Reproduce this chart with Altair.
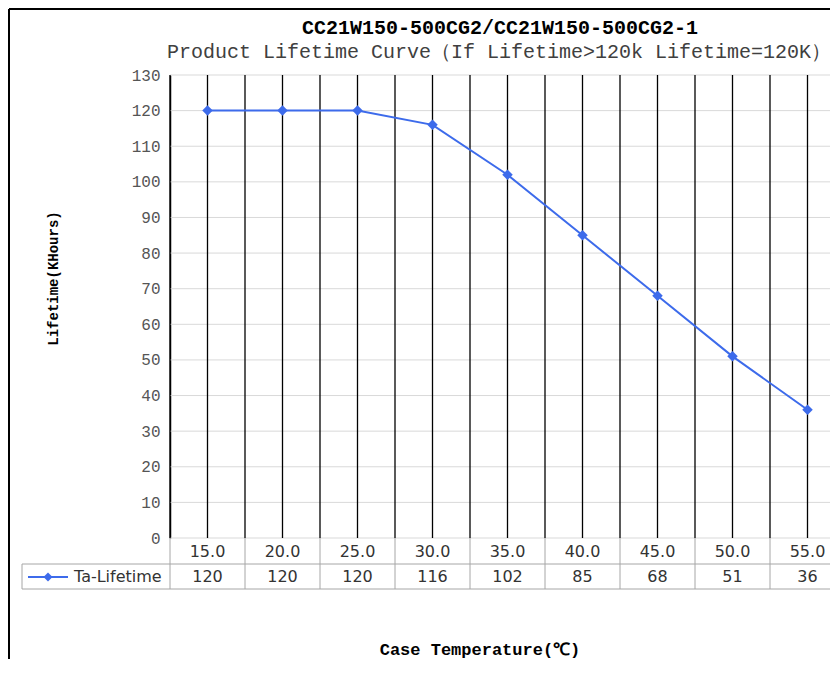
import altair as alt
import pandas as pd

# ---- data ----
temps = [15, 20, 25, 30, 35, 40, 45, 50, 55]
temp_labels = ["15.0", "20.0", "25.0", "30.0", "35.0", "40.0", "45.0", "50.0", "55.0"]
lifetimes = [120, 120, 120, 116, 102, 85, 68, 51, 36]
y_ticks = [0, 10, 20, 30, 40, 50, 60, 70, 80, 90, 100, 110, 120, 130]
series_name = "Ta-Lifetime"
title_text = "CC21W150-500CG2/CC21W150-500CG2-1"
subtitle_text = "Product Lifetime Curve\uff08If Lifetime>120k Lifetime=120K\uff09"
y_title = "Lifetime(KHours)"
x_title = "Case Temperature(\u2103)"

W, H = 660, 463
PB = 121
BLUE = "#3D6BEB"
GRID = "#D9D9D9"
TBL = "#A6A6A6"

df = pd.DataFrame({
    "temp": temps,
    "life": lifetimes,
    "tlabel": temp_labels,
    "llabel": [str(v) for v in lifetimes],
})
half = (temps[1] - temps[0]) / 2
xs = alt.Scale(domain=[temps[0] - half, temps[0] - half + W / 15.0], nice=False, zero=False)
ys = alt.Scale(domain=[0, 130], nice=False)

yaxis = alt.Axis(
    values=y_ticks, grid=False, ticks=False, domain=True, domainColor="#000000", domainWidth=1.5,
    labelFont="Liberation Mono", labelFontSize=16, labelColor="#555555", labelPadding=10,
    title=y_title, titleFont="Liberation Mono", titleFontSize=14, titleFontWeight="bold",
    titleColor="#000000", titleX=-117, titleY=203, titleAlign="center", titleBaseline="middle",
    titleAngle=270)

one = pd.DataFrame({"a": [0]})

grid = alt.Chart(pd.DataFrame({"v": y_ticks})).mark_rule(color=GRID, strokeWidth=1).encode(
    x=alt.value(0), x2=alt.value(W),
    y=alt.Y("v:Q", scale=ys, axis=yaxis),
)

vlines = alt.Chart(pd.DataFrame({"b": [t - half for t in temps] + temps})).mark_rule(
    color="#000000", strokeWidth=1.3).encode(
    x=alt.X("b:Q", scale=xs, axis=None), y=alt.value(0), y2=alt.value(H))

line = alt.Chart(df).mark_line(color=BLUE, strokeWidth=2).encode(
    x=alt.X("temp:Q", scale=xs, axis=None), y=alt.Y("life:Q", scale=ys, axis=yaxis))
pts = alt.Chart(df).mark_point(shape="diamond", filled=True, color=BLUE, size=110, opacity=1).encode(
    x=alt.X("temp:Q", scale=xs, axis=None), y=alt.Y("life:Q", scale=ys, axis=yaxis))

# data table borders
tbl_v = alt.Chart(pd.DataFrame({"b": [t - half for t in temps]})).mark_rule(color=TBL, strokeWidth=1).encode(
    x=alt.X("b:Q", scale=xs, axis=None), y=alt.value(H), y2=alt.value(H + 51))
tbl_h1 = alt.Chart(one).mark_rule(color=TBL, strokeWidth=1).encode(
    x=alt.value(-148), x2=alt.value(W), y=alt.value(H + 26))
tbl_h2 = alt.Chart(one).mark_rule(color=TBL, strokeWidth=1).encode(
    x=alt.value(-148), x2=alt.value(W), y=alt.value(H + 51))
tbl_l = alt.Chart(one).mark_rule(color=TBL, strokeWidth=1).encode(
    x=alt.value(-148), y=alt.value(H + 26), y2=alt.value(H + 51))

row1 = alt.Chart(df).mark_text(font="DejaVu Sans", fontSize=16, color="#333333", baseline="middle").encode(
    x=alt.X("temp:Q", scale=xs, axis=None), y=alt.value(H + 14), text="tlabel:N")
row2 = alt.Chart(df).mark_text(font="DejaVu Sans", fontSize=16, color="#333333", baseline="middle").encode(
    x=alt.X("temp:Q", scale=xs, axis=None), y=alt.value(H + 39), text="llabel:N")

leg_line = alt.Chart(one).mark_rule(color=BLUE, strokeWidth=2).encode(
    x=alt.value(-142), x2=alt.value(-102), y=alt.value(H + 39))
leg_pt = alt.Chart(one).mark_point(shape="diamond", filled=True, color=BLUE, size=80, opacity=1).encode(
    x=alt.value(-122), y=alt.value(H + 39))
leg_txt = alt.Chart(pd.DataFrame({"s": [series_name]})).mark_text(
    font="DejaVu Sans", fontSize=16, color="#333333", align="left", baseline="middle").encode(
    x=alt.value(-96), y=alt.value(H + 39), text="s:N")

# titles
t1 = alt.Chart(pd.DataFrame({"s": [title_text]})).mark_text(
    font="Liberation Mono", fontSize=20, fontWeight="bold", color="#000000", align="center",
    baseline="alphabetic").encode(x=alt.value(330), y=alt.value(-41), text="s:N")
t2 = alt.Chart(pd.DataFrame({"s": [subtitle_text]})).mark_text(
    font="Liberation Mono", fontSize=20, color="#404040", align="center",
    baseline="alphabetic").encode(x=alt.value(329), y=alt.value(-17), text="s:N")
xt = alt.Chart(pd.DataFrame({"s": [x_title]})).mark_text(
    font="Liberation Mono", fontSize=17, fontWeight="bold", color="#000000", align="center",
    baseline="middle").encode(x=alt.value(310), y=alt.value(575), text="s:N")

# outer frame
frame_l = alt.Chart(one).mark_rule(color="#000000", strokeWidth=2).encode(
    x=alt.value(-161), y=alt.value(-66), y2=alt.value(H + PB))
frame_t = alt.Chart(one).mark_rule(color="#000000", strokeWidth=2).encode(
    x=alt.value(-161), x2=alt.value(W), y=alt.value(-66))

chart = alt.layer(
    grid, vlines, tbl_v, tbl_h1, tbl_h2, tbl_l, line, pts, row1, row2,
    leg_line, leg_pt, leg_txt, t1, t2, xt, frame_l, frame_t,
).properties(
    width=W, height=H,
    autosize=alt.AutoSizeParams(type="none"),
    padding={"left": 162, "top": 67, "right": 0, "bottom": PB},
    background="white",
).configure_view(stroke=None)

chart.save("out.html", embed_options={"renderer": "svg", "actions": False})
